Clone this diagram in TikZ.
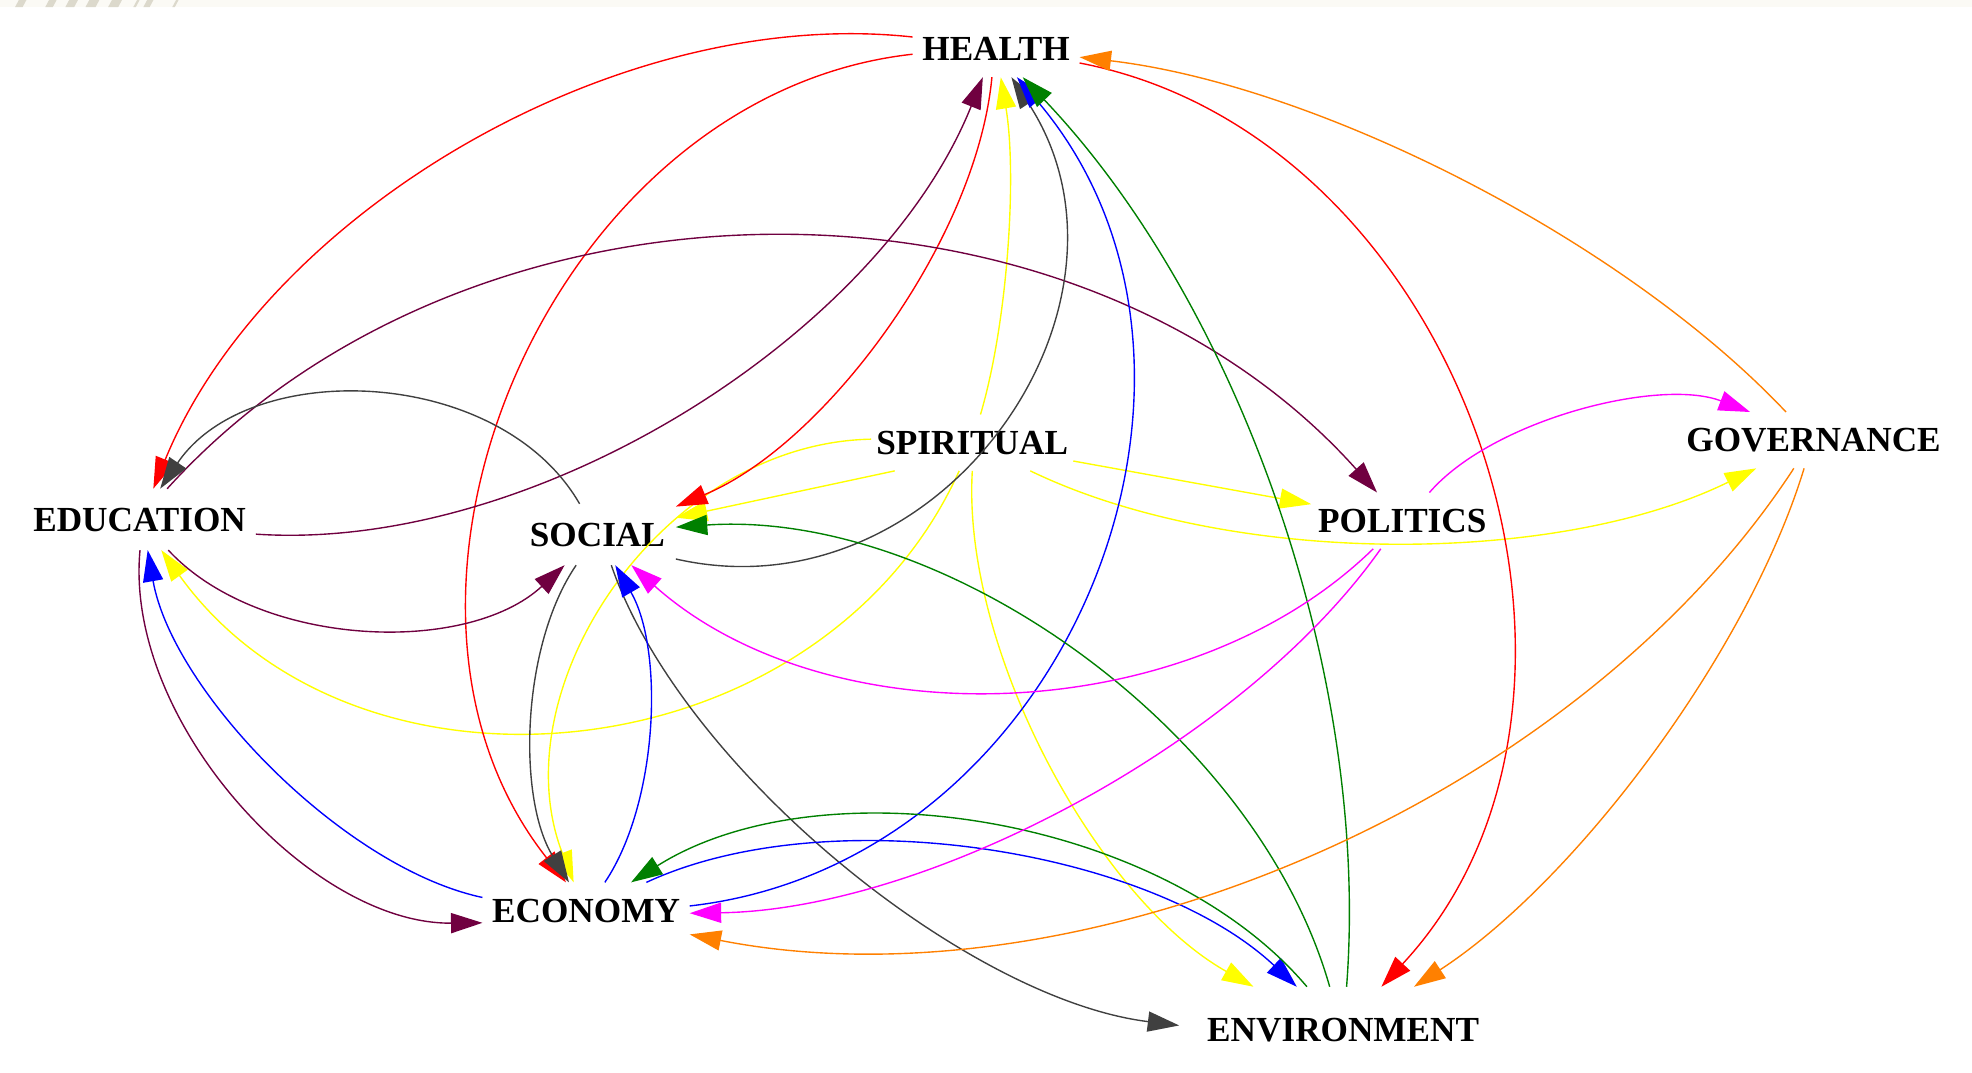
\documentclass[tikz,border=0pt]{standalone}
\usepackage{fontspec}
\setmainfont{Liberation Serif}
\usetikzlibrary{arrows.meta,topaths}
\definecolor{cred}{RGB}{255,0,0}
\definecolor{cmar}{RGB}{112,0,64}
\definecolor{cgry}{RGB}{64,64,64}
\definecolor{cyel}{RGB}{255,255,0}
\definecolor{cblu}{RGB}{0,0,255}
\definecolor{cgrn}{RGB}{0,128,0}
\definecolor{cmag}{RGB}{255,0,255}
\definecolor{corg}{RGB}{255,128,0}
\definecolor{stripbg}{RGB}{251,250,245}
\definecolor{stripfg}{RGB}{220,217,204}
\begin{document}
\begin{tikzpicture}[x=0.5pt,y=0.5pt,
  lbl/.style={font=\bfseries\fontsize{14pt}{14pt}\selectfont, inner sep=0pt,
    text height=9.3pt, text depth=0pt, anchor=center},
  e/.style={line width=0.55pt, -{Triangle[length=12.5pt,width=8pt]}},
]
\useasboundingbox (0,0) rectangle (1568,853);
\fill[white] (0,0) rectangle (1568,853);
\fill[stripbg] (0,847.4) rectangle (1568,853);
\foreach \a/\b in {12/18,36/42,52/59,68/76,86/94,106/108,114/119,137/139}
  \fill[stripfg] (\a,847.4) -- (\b,847.4) -- (\b+3,853) -- (\a+3,853) -- cycle;

% nodes
\node[lbl, minimum width=66pt, minimum height=22pt] (health) at (792,814) {HEALTH};
\node[lbl, minimum width=92pt, minimum height=24pt] (edu) at (111,440) {EDUCATION};
\node[lbl, minimum width=62pt, minimum height=24pt] (social) at (475,428) {SOCIAL};
\node[lbl, minimum width=80pt, minimum height=22pt] (spi) at (773,501) {SPIRITUAL};
\node[lbl, minimum width=72pt, minimum height=22pt] (pol) at (1115,439) {POLITICS};
\node[lbl, minimum width=106pt, minimum height=22pt] (gov) at (1442,503) {GOVERNANCE};
\node[lbl, minimum width=82pt, minimum height=22pt] (eco) at (466,129) {ECONOMY};
\node[lbl, minimum width=130pt, minimum height=34pt] (env) at (1068,34) {ENVIRONMENT};

% yellow (from SPIRITUAL)
\draw[e,cyel] (spi) to[bend right=13,looseness=0.74] (health);
\draw[e,cyel] (spi.200) -- (social);
\draw[e,cyel] (spi.178) to[bend right=55,looseness=1.0] (eco);
\draw[e,cyel] (spi) to[bend left=60,looseness=1.07] (edu);
\draw[e,cyel] (spi) -- (pol);
\draw[e,cyel] (spi) to[bend right=26,looseness=0.78] (gov);
\draw[e,cyel] (spi) to[bend right=32,looseness=0.78] (env);

% red (from HEALTH)
\draw[e,cred] (health) to[bend right=37,looseness=0.86] (edu);
\draw[e,cred] (health) to[bend right=61,looseness=1.04] (eco);
\draw[e,cred] (health) to[bend left=31,looseness=0.78] (social);
\draw[e,cred] (health) to[bend left=61,looseness=1.04] (env);

% maroon (from EDUCATION)
\draw[e,cmar] (edu) to[bend right=36,looseness=0.83] (health);
\draw[e,cmar] (edu) to[bend left=48,looseness=0.96] (pol);
\draw[e,cmar] (edu) to[bend right=45,looseness=0.86] (social);
\draw[e,cmar] (edu) to[bend right=48,looseness=0.87] (eco);

% gray (from SOCIAL)
\draw[e,cgry] (social) to[bend right=58,looseness=0.97] (edu);
\draw[e,cgry] (social) to[bend right=68,looseness=1.18] (health);
\draw[e,cgry] (social) to[bend right=33,looseness=0.79] (eco);
\draw[e,cgry] (social) to[bend right=32,looseness=0.75] (env);

% blue (from ECONOMY)
\draw[e,cblu] (eco) to[bend left=34,looseness=0.76] (edu);
\draw[e,cblu] (eco) to[bend right=32,looseness=0.78] (social);
\draw[e,cblu] (eco) to[bend right=62,looseness=1.1] (health);
\draw[e,cblu] (eco) to[bend left=34,looseness=0.78] (env);

% green (from ENVIRONMENT)
\draw[e,cgrn] (env) to[bend right=24,looseness=0.83] (health);
\draw[e,cgrn] (env) to[bend right=39,looseness=0.86] (social);
\draw[e,cgrn] (env) to[bend right=41,looseness=0.84] (eco);

% magenta (from POLITICS)
\draw[e,cmag] (pol) to[bend left=35,looseness=0.75] (gov);
\draw[e,cmag] (pol) to[bend left=43,looseness=0.9] (social);
\draw[e,cmag] (pol) to[bend left=27,looseness=0.78] (eco);

% orange (from GOVERNANCE)
\draw[e,corg] (gov) to[bend right=20,looseness=0.77] (health);
\draw[e,corg] (gov) to[bend left=34,looseness=0.85] (eco);
\draw[e,corg] (gov) to[bend left=20,looseness=0.76] (env);
\end{tikzpicture}
\end{document}
